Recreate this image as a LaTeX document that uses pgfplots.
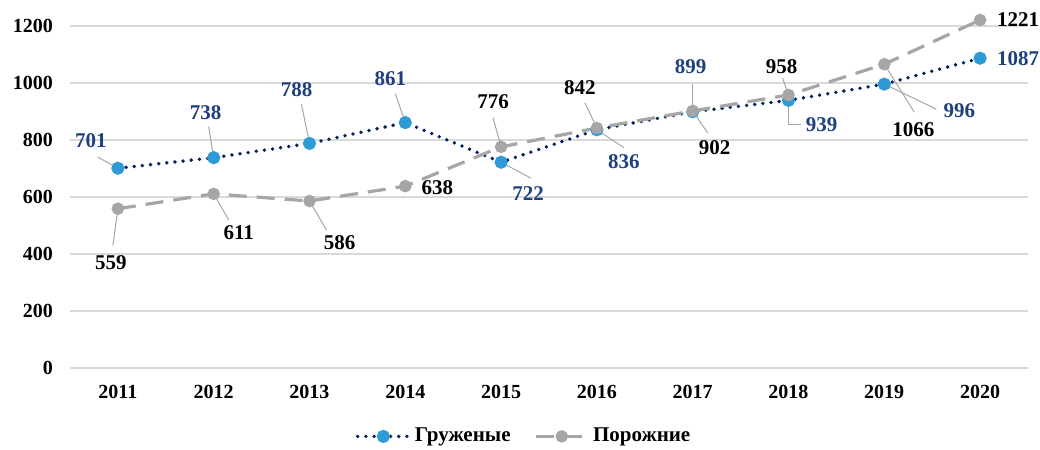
\documentclass[border=0pt]{standalone}
\usepackage{fontspec}
\setmainfont{Liberation Serif}
\usepackage{pgfplots}
\pgfplotsset{compat=1.18}
\definecolor{navyl}{HTML}{002060}
\definecolor{bluem}{HTML}{2E9BD6}
\definecolor{bluetxt}{HTML}{1F3F7F}
\definecolor{grayl}{HTML}{A6A6A6}
\definecolor{gridc}{HTML}{D9D9D9}
\tikzset{
  lb/.style={font=\fontsize{10.5}{12}\selectfont\bfseries,text=bluetxt,inner sep=0pt},
  lk/.style={font=\fontsize{10.5}{12}\selectfont\bfseries,text=black,inner sep=0pt},
  lead/.style={draw=grayl,line width=0.5pt,shorten <=2.5pt},
}
\begin{document}
\begin{tikzpicture}
\begin{axis}[
  scale only axis,width=479pt,height=171pt,
  xmin=2010.5,xmax=2020.5,ymin=0,ymax=1200,
  xtick={2011,...,2020},ytick={0,200,...,1200},
  ticklabel style={font=\fontsize{10}{12}\selectfont\bfseries},
  /pgf/number format/assume math mode=true,
  /pgf/number format/1000 sep={},
  axis line style={draw=none},tick style={draw=none},
  ymajorgrids,grid style={gridc,line width=0.6pt},
  yticklabel style={xshift=-5pt},xticklabel style={yshift=-5pt},
  clip=false,
  legend columns=2,
  legend style={at={(0.475,-0.20)},anchor=center,draw=none,fill=none,
    font=\fontsize{10.5}{12}\selectfont\bfseries,
    /tikz/every even column/.append style={column sep=10pt}},
  legend image code/.code={\draw[mark repeat=2,mark phase=2] plot coordinates {(0cm,0cm)(0.45cm,0cm)(0.9cm,0cm)};},
]
\addplot[navyl,line width=1.9pt,dash pattern=on 0pt off 4.1pt,line cap=round,
  mark=*,mark size=2.3pt,mark options={solid,draw=bluem,fill=bluem}] coordinates {
 (2011,701) (2012,738) (2013,788) (2014,861) (2015,722)
 (2016,836) (2017,899) (2018,939) (2019,996) (2020,1087)};
\addlegendentry{Груженые}
\addplot[grayl,line width=1.6pt,dash pattern=on 9pt off 5pt,
  mark=*,mark size=2.3pt,mark options={solid,draw=grayl,fill=grayl}] coordinates {
 (2011,559) (2012,611) (2013,586) (2014,638) (2015,776)
 (2016,842) (2017,902) (2018,958) (2019,1066) (2020,1221)};
\addlegendentry{Порожние}
% leader lines, Груженые
\draw[lead] (axis cs:2011,701) -- ([shift={(-10pt,5.5pt)}]axis cs:2011,701);
\draw[lead] (axis cs:2012,738) -- ([shift={(-2.5pt,15.5pt)}]axis cs:2012,738);
\draw[lead] (axis cs:2013,788) -- ([shift={(-4pt,19.5pt)}]axis cs:2013,788);
\draw[lead] (axis cs:2014,861) -- ([shift={(-5pt,14.5pt)}]axis cs:2014,861);
\draw[lead] (axis cs:2015,722) -- ([shift={(15pt,-8pt)}]axis cs:2015,722);
\draw[lead] (axis cs:2016,836) -- ([shift={(13.5pt,-9pt)}]axis cs:2016,836);
\draw[lead] (axis cs:2017,899) -- ([shift={(0pt,14pt)}]axis cs:2017,899);
\draw[lead] (axis cs:2018,939) -- ([shift={(0pt,-12pt)}]axis cs:2018,939) -- ([shift={(6pt,-12pt)}]axis cs:2018,939);
\draw[lead] (axis cs:2019,996) -- ([shift={(26pt,-12.5pt)}]axis cs:2019,996);
% leader lines, Порожние
\draw[lead] (axis cs:2011,559) -- ([shift={(-2.5pt,-18.5pt)}]axis cs:2011,559);
\draw[lead] (axis cs:2012,611) -- ([shift={(7.5pt,-13pt)}]axis cs:2012,611);
\draw[lead] (axis cs:2013,586) -- ([shift={(8.5pt,-14.5pt)}]axis cs:2013,586);
\draw[lead] (axis cs:2015,776) -- ([shift={(-4pt,14.5pt)}]axis cs:2015,776);
\draw[lead] (axis cs:2016,842) -- ([shift={(-6pt,12.5pt)}]axis cs:2016,842);
\draw[lead] (axis cs:2017,902) -- ([shift={(7.5pt,-11pt)}]axis cs:2017,902);
\draw[lead] (axis cs:2018,958) -- ([shift={(-3pt,8.5pt)}]axis cs:2018,958);
\draw[lead] (axis cs:2019,1066) -- ([shift={(15pt,-24pt)}]axis cs:2019,1066);
% labels, Груженые
\node[lb] at ([shift={(-13.5pt,14pt)}]axis cs:2011,701) {701};
\node[lb] at ([shift={(-4pt,22.5pt)}]axis cs:2012,738) {738};
\node[lb] at ([shift={(-6.5pt,27pt)}]axis cs:2013,788) {788};
\node[lb] at ([shift={(-7.5pt,22pt)}]axis cs:2014,861) {861};
\node[lb] at ([shift={(13.5pt,-15.5pt)}]axis cs:2015,722) {722};
\node[lb] at ([shift={(13.5pt,-16pt)}]axis cs:2016,836) {836};
\node[lb] at ([shift={(-1pt,22.5pt)}]axis cs:2017,899) {899};
\node[lb] at ([shift={(16.5pt,-12pt)}]axis cs:2018,939) {939};
\node[lb] at ([shift={(37.5pt,-13.5pt)}]axis cs:2019,996) {996};
\node[lb] at ([shift={(19pt,0pt)}]axis cs:2020,1087) {1087};
% labels, Порожние
\node[lk] at ([shift={(-3.5pt,-27pt)}]axis cs:2011,559) {559};
\node[lk] at ([shift={(12.5pt,-19.5pt)}]axis cs:2012,611) {611};
\node[lk] at ([shift={(15pt,-21pt)}]axis cs:2013,586) {586};
\node[lk] at ([shift={(16pt,-0.5pt)}]axis cs:2014,638) {638};
\node[lk] at ([shift={(-4pt,22.5pt)}]axis cs:2015,776) {776};
\node[lk] at ([shift={(-8.5pt,20pt)}]axis cs:2016,842) {842};
\node[lk] at ([shift={(11pt,-18.5pt)}]axis cs:2017,902) {902};
\node[lk] at ([shift={(-3.5pt,14pt)}]axis cs:2018,958) {958};
\node[lk] at ([shift={(14.5pt,-32.5pt)}]axis cs:2019,1066) {1066};
\node[lk] at ([shift={(19pt,0pt)}]axis cs:2020,1221) {1221};
\end{axis}
\pgfresetboundingbox
\path (-35pt,-41pt) rectangle (485pt,184pt);
\end{tikzpicture}
\end{document}
